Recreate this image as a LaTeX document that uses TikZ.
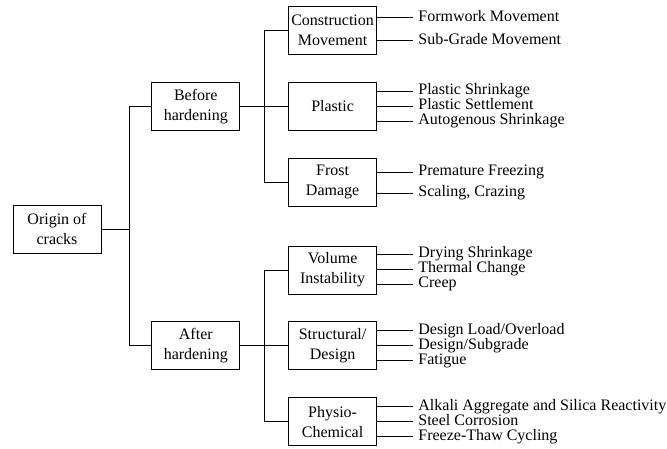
\documentclass[tikz,border=0pt]{standalone}
\usepackage{fontspec}
\setmainfont{Liberation Serif}
\usetikzlibrary{positioning}

\begin{document}
\begin{tikzpicture}[x=1pt, y=-1pt, node distance={27pt}, line width=0.8pt,
  box/.style = {draw, rectangle, minimum width=88pt, minimum height=48pt, inner sep=2pt, align=center, font=\fontsize{16}{20}\selectfont},
  leaf/.style = {anchor=west, inner xsep=5pt, inner ysep=0pt, text height=11pt, text depth=3.5pt, font=\fontsize{16}{19}\selectfont}]
\useasboundingbox (0,0) rectangle (667,448);

\node[box] (1) at (57,229) {Origin of\\cracks};
\node[box] (2) [above right=74pt and 50pt of 1]{Before\\hardening};
\node[box] (3) [below right=68pt and 50pt of 1]{After\\hardening};

\node[box] (5) [right=48pt of 2]{Plastic};
\node[box] (4) [above=of 5]{Construction\\Movement};
\node[box] (6) [below=of 5]{Frost\\Damage};
\node[box] (8) [right=48pt of 3]{Structural/\\Design};
\node[box] (7) [above=of 8]{Volume\\Instability};
\node[box] (9) [below=of 8]{Physio-\\Chemical};

\node[leaf] (10) [right=36pt of 4, yshift=13pt]{Formwork Movement};
\node[leaf] (11) [right=36pt of 4, yshift=-10pt]{Sub-Grade Movement};
\node[leaf] (12) [right=36pt of 5, yshift=15pt]{Plastic Shrinkage};
\node[leaf] (13) [right=36pt of 5]{Plastic Settlement};
\node[leaf] (14) [right=36pt of 5, yshift=-15pt]{Autogenous Shrinkage};
\node[leaf] (15) [right=36pt of 6, yshift=10pt]{Premature Freezing};
\node[leaf] (16) [right=36pt of 6, yshift=-11pt]{Scaling, Crazing};
\node[leaf] (17) [right=36pt of 7, yshift=16pt]{Drying Shrinkage};
\node[leaf] (18) [right=36pt of 7, yshift=1pt]{Thermal Change};
\node[leaf] (19) [right=36pt of 7, yshift=-14pt]{Creep};
\node[leaf] (20) [right=36pt of 8, yshift=15pt]{Design Load/Overload};
\node[leaf] (21) [right=36pt of 8]{Design/Subgrade};
\node[leaf] (22) [right=36pt of 8, yshift=-15pt]{Fatigue};
\node[leaf] (23) [right=36pt of 9, yshift=15pt]{Alkali Aggregate and Silica Reactivity};
\node[leaf] (24) [right=36pt of 9]{Steel Corrosion};
\node[leaf] (25) [right=36pt of 9, yshift=-15pt]{Freeze-Thaw Cycling};

\draw (2.west) -- ++(-22,0) |- (1.east);
\draw (3.west) -- ++(-22,0) |- (1.east);
\draw (4.west) -- ++(-24,0) |- (2.east); \draw (5.west) -- (2.east); \draw (6.west) -- ++(-24,0) |- (2.east);
\draw (7.west) -- ++(-24,0) |- (3.east); \draw (8.west) -- (3.east); \draw (9.west) -- ++(-24,0) |- (3.east);

\draw (4.east |- 10) -- (10); \draw (4.east |- 11) -- (11);
\draw (5.east |- 12) -- (12); \draw (5.east |- 13) -- (13); \draw (5.east |- 14) -- (14);
\draw (6.east |- 15) -- (15); \draw (6.east |- 16) -- (16);
\draw (7.east |- 17) -- (17); \draw (7.east |- 18) -- (18); \draw (7.east |- 19) -- (19);
\draw (8.east |- 20) -- (20); \draw (8.east |- 21) -- (21); \draw (8.east |- 22) -- (22);
\draw (9.east |- 23) -- (23); \draw (9.east |- 24) -- (24); \draw (9.east |- 25) -- (25);

\end{tikzpicture}
\end{document}
